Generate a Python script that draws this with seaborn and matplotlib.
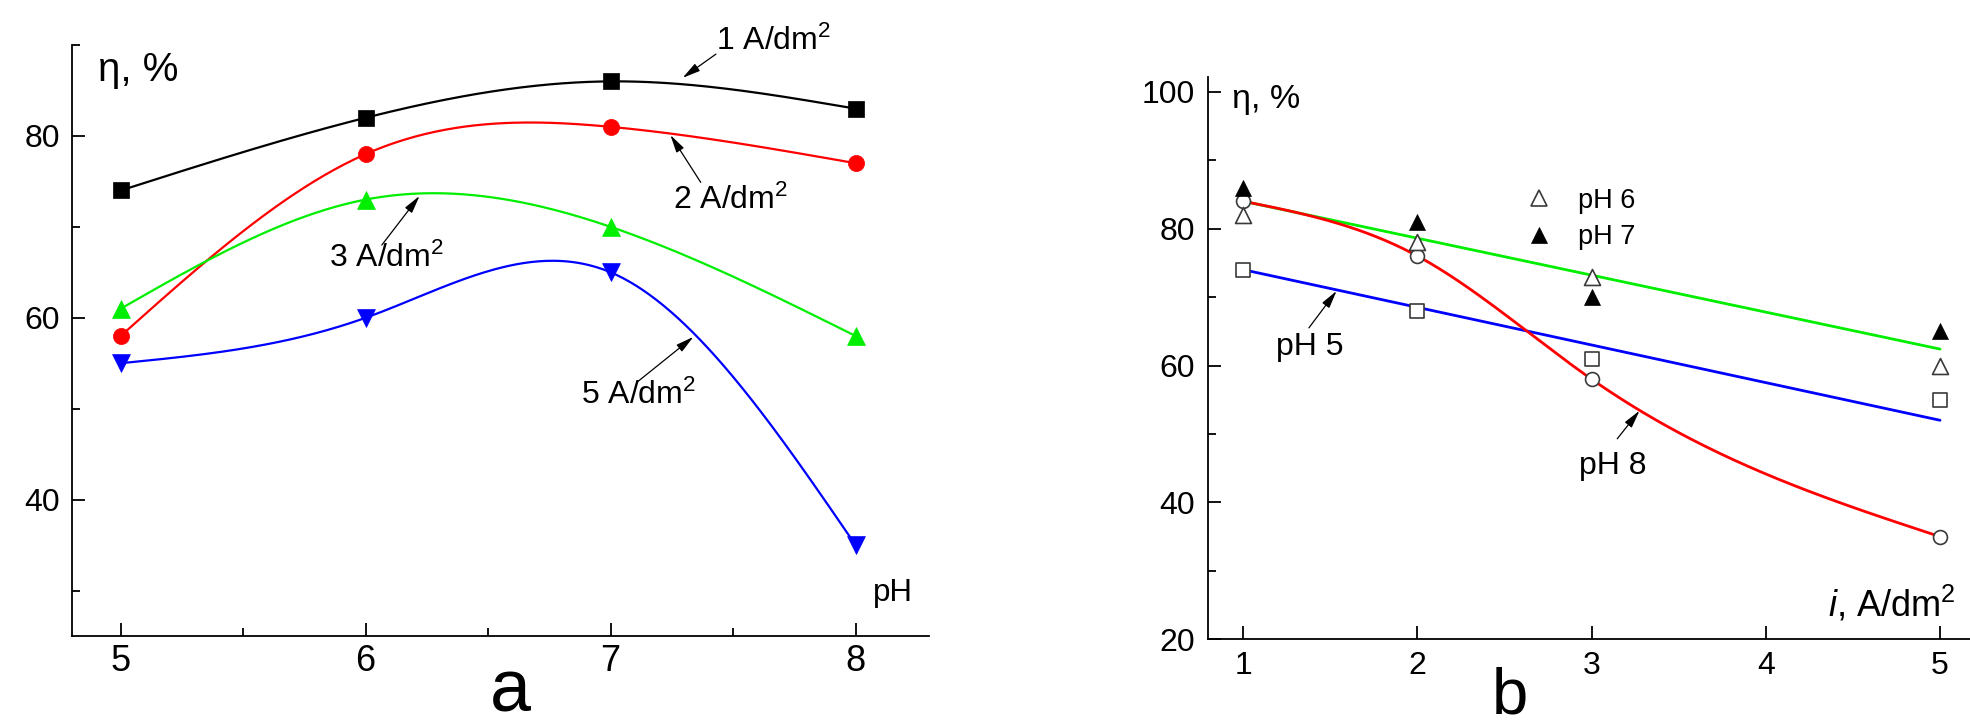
import numpy as np
import pandas as pd
import matplotlib
matplotlib.use("Agg")
import matplotlib.pyplot as plt
import seaborn as sns
from matplotlib.lines import Line2D
from matplotlib.ticker import MultipleLocator, NullLocator

# ---------------- data: panel a (eta vs pH) ----------------
ph = [5, 6, 7, 8]
eta_1A = [74, 82, 86, 83]
eta_2A = [58, 78, 81, 77]
eta_3A = [61, 73, 70, 58]
eta_5A = [55, 60, 65, 35]
labels_a = ["1 A/dm$^2$", "2 A/dm$^2$", "3 A/dm$^2$", "5 A/dm$^2$"]

# ---------------- data: panel b (eta vs current density) ----------------
current = [1, 2, 3, 5]
eta_ph5 = [74, 68, 61, 55]
eta_ph6 = [82, 78, 73, 60]
eta_ph7 = [86, 81, 70, 65]
eta_ph8 = [84, 76, 58, 35]
# straight trend lines at i = 1 and i = 5
fit_i = [1, 5]
fit_ph5 = [74, 52]
fit_ph67 = [84, 62.4]


def natural_spline(x, y, n=300):
    x = np.asarray(x, float)
    y = np.asarray(y, float)
    k = len(x)
    h = np.diff(x)
    A = np.zeros((k, k))
    b = np.zeros(k)
    A[0, 0] = A[-1, -1] = 1
    for i in range(1, k - 1):
        A[i, i - 1] = h[i - 1]
        A[i, i] = 2 * (h[i - 1] + h[i])
        A[i, i + 1] = h[i]
        b[i] = 6 * ((y[i + 1] - y[i]) / h[i] - (y[i] - y[i - 1]) / h[i - 1])
    M = np.linalg.solve(A, b)
    xs = np.linspace(x[0], x[-1], n)
    idx = np.clip(np.searchsorted(x, xs) - 1, 0, k - 2)
    x0, x1 = x[idx], x[idx + 1]
    hh = x1 - x0
    ys = (M[idx] * (x1 - xs) ** 3 / (6 * hh) + M[idx + 1] * (xs - x0) ** 3 / (6 * hh)
          + (y[idx] / hh - M[idx] * hh / 6) * (x1 - xs)
          + (y[idx + 1] / hh - M[idx + 1] * hh / 6) * (xs - x0))
    return xs, ys


sns.set_theme(style="ticks")
plt.rcParams["font.family"] = ["Liberation Sans", "DejaVu Sans"]
plt.rcParams["mathtext.fontset"] = "custom"
plt.rcParams["mathtext.rm"] = "Liberation Sans"
plt.rcParams["mathtext.it"] = "Liberation Sans:italic"
plt.rcParams["axes.edgecolor"] = "black"
plt.rcParams["xtick.color"] = "black"
plt.rcParams["ytick.color"] = "black"
plt.rcParams["text.color"] = "black"

fig = plt.figure(figsize=(19.7, 7.26), dpi=100)
axA = fig.add_axes([0.0364, 0.124, 0.4352, 0.814])
axB = fig.add_axes([0.6134, 0.1194, 0.3866, 0.775])

ARROW = dict(arrowstyle="-|>,head_length=0.9,head_width=0.22",
             color="black", lw=0.9, shrinkA=0, shrinkB=0)

# ---------------- panel a ----------------
series_a = [
    (eta_1A, "black", "s", 117),
    (eta_2A, "#ff0000", "o", 135),
    (eta_3A, "#00ee00", "^", 165),
    (eta_5A, "#0000ff", "v", 165),
]
for vals, col, mk, sz in series_a:
    xs, ys = natural_spline(ph, vals)
    sns.lineplot(x=xs, y=ys, ax=axA, color=col, lw=1.6, sort=False, estimator=None)
    sns.scatterplot(x=ph, y=vals, ax=axA, color=col, marker=mk, s=sz,
                    edgecolor=col, linewidth=0.5, zorder=5)

axA.set_xlim(4.8, 8.3)
axA.set_ylim(25, 90)
axA.xaxis.set_major_locator(MultipleLocator(1))
axA.xaxis.set_minor_locator(MultipleLocator(0.5))
axA.yaxis.set_major_locator(MultipleLocator(20))
axA.yaxis.set_minor_locator(MultipleLocator(10))
axA.set_xlabel("")
axA.set_ylabel("")
axA.tick_params(axis="x", which="major", labelsize=26, pad=6)
axA.tick_params(axis="y", which="major", labelsize=23, pad=8.5)

axA.text(4.907, 86.0, "η, %", fontsize=29, ha="left", va="baseline")
axA.text(8.073, 28.8, "pH", fontsize=22.5, ha="left", va="baseline")

text_pos_a = [(7.43, 89.45), (7.256, 71.98), (5.85, 65.54), (6.88, 50.47)]
arrow_a = [((7.43, 89.0), (7.294, 86.39)),
           ((7.368, 74.89), (7.244, 80.1)),
           ((6.066, 68.0), (6.22, 73.4)),
           ((7.108, 52.92), (7.338, 57.9))]
for lab, (tx, ty), (st, tip) in zip(labels_a, text_pos_a, arrow_a):
    axA.text(tx, ty, lab, fontsize=23, ha="left", va="baseline")
    axA.annotate("", xy=tip, xytext=st, arrowprops=ARROW)

# ---------------- panel b ----------------
sns.lineplot(x=fit_i, y=fit_ph67, ax=axB, color="#00ee00", lw=2.0)
sns.lineplot(x=fit_i, y=fit_ph5, ax=axB, color="#0000ff", lw=2.0)
xs8, ys8 = natural_spline(current, eta_ph8)
sns.lineplot(x=xs8, y=ys8, ax=axB, color="#ff0000", lw=2.0, sort=False, estimator=None)

edge = "#3a3a3a"
sns.scatterplot(x=current, y=eta_ph5, ax=axB, marker="s", s=90, facecolor="white",
                edgecolor=edge, linewidth=1.2, zorder=5)
sns.scatterplot(x=current, y=eta_ph8, ax=axB, marker="o", s=100, facecolor="white",
                edgecolor=edge, linewidth=1.2, zorder=5)
sns.scatterplot(x=current, y=eta_ph6, ax=axB, marker="^", s=132, facecolor="white",
                edgecolor=edge, linewidth=1.2, zorder=6)
sns.scatterplot(x=current, y=eta_ph7, ax=axB, marker="^", s=132, color="black",
                edgecolor="black", linewidth=0.5, zorder=6)

axB.set_xlim(0.8, 5.172)
axB.set_ylim(20, 102.2)
axB.xaxis.set_major_locator(MultipleLocator(1))
axB.xaxis.set_minor_locator(NullLocator())
axB.yaxis.set_major_locator(MultipleLocator(20))
axB.yaxis.set_minor_locator(MultipleLocator(10))
axB.set_xlabel("")
axB.set_ylabel("")
axB.tick_params(axis="x", which="major", labelsize=23, pad=8.5)
axB.tick_params(axis="y", which="major", labelsize=23, pad=9.5)

axB.text(0.936, 97.6, "η, %", fontsize=24.5, ha="left", va="baseline")
axB.text(5.09, 23.3, "$i$, A/dm$^2$", fontsize=26, ha="right", va="baseline")

axB.text(1.19, 61.6, "pH 5", fontsize=23, ha="left", va="baseline")
axB.annotate("", xy=(1.536, 70.9), xytext=(1.377, 65.5), arrowprops=ARROW)
axB.text(2.93, 44.2, "pH 8", fontsize=23, ha="left", va="baseline")
axB.annotate("", xy=(3.275, 53.4), xytext=(3.147, 49.3), arrowprops=ARROW)

handles = [
    Line2D([], [], marker="^", ls="none", ms=11.5, mfc="white", mec=edge, mew=1.2),
    Line2D([], [], marker="^", ls="none", ms=11.5, mfc="black", mec="black", mew=0.5),
]
axB.legend(handles, ["pH 6", "pH 7"], loc="upper left", bbox_to_anchor=(2.618, 86.0),
           bbox_transform=axB.transData, frameon=False, fontsize=19.5,
           handlelength=1.0, handletextpad=0.95, borderpad=0, borderaxespad=0,
           labelspacing=0.4)

for ax in (axA, axB):
    sns.despine(ax=ax)
    for sp in ("left", "bottom"):
        ax.spines[sp].set_linewidth(1.3)
        ax.spines[sp].set_color("black")
    ax.tick_params(which="major", direction="in", length=9.3, width=1.3)
    ax.tick_params(which="minor", direction="in", length=5.5, width=1.3)
    ax.grid(False)

fig.text(0.259, 0.0, "a", fontsize=53, ha="center", va="bottom")
fig.text(0.7665, 0.0, "b", fontsize=47, ha="center", va="bottom")

fig.savefig("out.png", dpi=100, facecolor="white")
